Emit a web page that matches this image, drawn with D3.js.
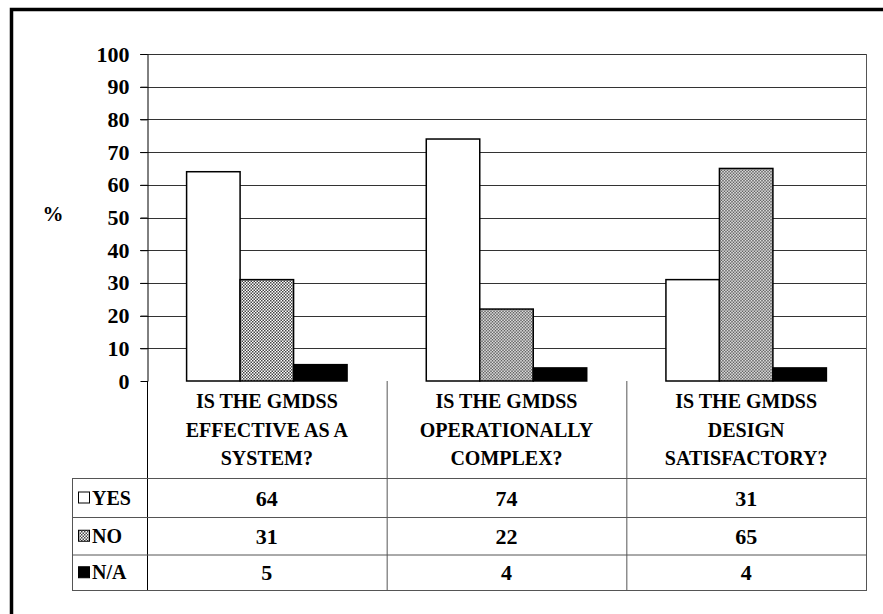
<!DOCTYPE html>
<html>
<head>
<meta charset="utf-8">
<script src="https://cdn.jsdelivr.net/npm/d3@7"></script>
<style>
  html, body { margin: 0; padding: 0; background: #fff; }
  svg { display: block; }
</style>
</head>
<body>
<script>
// Survey answers (%) for three questions about the GMDSS
const categories = [
  ["IS THE GMDSS", "EFFECTIVE AS A", "SYSTEM?"],
  ["IS THE GMDSS", "OPERATIONALLY", "COMPLEX?"],
  ["IS THE GMDSS", "DESIGN", "SATISFACTORY?"]
];
const seriesNames = ["YES", "NO", "N/A"];
const yesValues = [64, 74, 31];
const noValues = [31, 22, 65];
const naValues = [5, 4, 4];
const yTicks = [0, 10, 20, 30, 40, 50, 60, 70, 80, 90, 100];

const seriesValues = [yesValues, noValues, naValues];

const W = 883, H = 614;
const plotLeft = 147, plotRight = 866, plotTop = 54, plotBottom = 381;
const legendLeft = 72;
const rowLines = [478, 517, 554.5, 590];
const FONT = "Liberation Serif";

const svg = d3.select("body").append("svg").attr("width", W).attr("height", H)
  .attr("font-family", FONT).attr("font-weight", "bold");

// Dotted fill used for the "NO" series
const defs = svg.append("defs");
const pat = defs.append("pattern").attr("id", "dots")
  .attr("patternUnits", "userSpaceOnUse").attr("width", 3).attr("height", 3);
pat.append("rect").attr("width", 3).attr("height", 3).attr("fill", "#fff");
pat.append("rect").attr("x", 0).attr("y", 0).attr("width", 1.5).attr("height", 1.5).attr("fill", "#444");
pat.append("rect").attr("x", 1.5).attr("y", 1.5).attr("width", 1.5).attr("height", 1.5).attr("fill", "#444");

const fills = ["#fff", "url(#dots)", "#000"];

const x0 = d3.scaleBand().domain(d3.range(categories.length)).range([plotLeft, plotRight]);
const groupPad = 39.6;
const x1 = d3.scaleBand().domain(d3.range(seriesNames.length))
  .range([groupPad, x0.bandwidth() - groupPad]);
const y = d3.scaleLinear().domain([0, 100]).range([plotBottom, plotTop]);

// Outer frame (top and left edges)
svg.append("path")
  .attr("d", `M11.5,${H} V9.5 H${W}`)
  .attr("fill", "none").attr("stroke", "#000").attr("stroke-width", 3.5);

// Gridlines
svg.append("g").selectAll("line").data(yTicks.filter(d => d > 0)).join("line")
  .attr("x1", 140).attr("x2", plotRight)
  .attr("y1", d => Math.round(y(d)) + 0.5).attr("y2", d => Math.round(y(d)) + 0.5)
  .attr("stroke", "#333").attr("stroke-width", 1);

// Right edge of plot area
svg.append("line").attr("x1", plotRight + 0.5).attr("x2", plotRight + 0.5)
  .attr("y1", y(100)).attr("y2", rowLines[3])
  .attr("stroke", "#555").attr("stroke-width", 1);

// Y axis
const yAxis = d3.axisLeft(y).tickValues(yTicks).tickSize(7).tickSizeOuter(0).tickPadding(11);
const ga = svg.append("g").attr("transform", `translate(${plotLeft + 0.5},0)`).call(yAxis);
ga.attr("font-family", FONT).attr("font-size", 22);
ga.select(".domain").attr("stroke", "#000");
ga.selectAll(".tick line").attr("stroke", "#000");
ga.selectAll(".tick text").attr("fill", "#000");

svg.append("text").attr("x", 53).attr("y", 221).attr("text-anchor", "middle")
  .attr("font-size", 21).text("%");

// Bars
const groups = svg.append("g").selectAll("g").data(categories).join("g")
  .attr("transform", (d, i) => `translate(${x0(i)},0)`);
groups.selectAll("rect")
  .data((d, i) => seriesValues.map((vals, s) => ({ s, v: vals[i] })))
  .join("rect")
  .attr("x", d => x1(d.s))
  .attr("width", x1.bandwidth())
  .attr("y", d => y(d.v))
  .attr("height", d => y(0) - y(d.v))
  .attr("fill", d => fills[d.s])
  .attr("stroke", "#000").attr("stroke-width", 1.5);

// Data table below the plot
const tbl = svg.append("g");
const tc = "#555";
x0.domain().forEach(i => {
  tbl.append("line").attr("x1", x0(i) + 0.5).attr("x2", x0(i) + 0.5)
    .attr("y1", plotBottom).attr("y2", rowLines[3]).attr("stroke", i === 0 ? "#000" : tc);
});
tbl.append("line").attr("x1", legendLeft + 0.5).attr("x2", legendLeft + 0.5)
  .attr("y1", rowLines[0]).attr("y2", rowLines[3]).attr("stroke", tc);
rowLines.forEach(ry => {
  tbl.append("line").attr("x1", legendLeft).attr("x2", plotRight + 1)
    .attr("y1", ry + 0.5).attr("y2", ry + 0.5).attr("stroke", tc);
});

// category labels
categories.forEach((lines, i) => {
  const cx = x0(i) + x0.bandwidth() / 2;
  const t = tbl.append("text").attr("text-anchor", "middle").attr("font-size", 20).attr("x", cx);
  lines.forEach((ln, k) => {
    t.append("tspan").attr("x", cx).attr("y", 408 + k * 28.5).text(ln);
  });
});

// legend keys and values
seriesNames.forEach((name, s) => {
  const top = rowLines[s], bot = rowLines[s + 1];
  const cy = (top + bot) / 2;
  tbl.append("rect").attr("x", 78.5).attr("y", cy - 5.5).attr("width", 11).attr("height", 11)
    .attr("fill", fills[s]).attr("stroke", "#000").attr("stroke-width", 1);
  tbl.append("text").attr("x", 92).attr("y", cy + 7).attr("font-size", 20).text(name);
  seriesValues[s].forEach((v, i) => {
    tbl.append("text").attr("x", x0(i) + x0.bandwidth() / 2).attr("y", cy + 8)
      .attr("text-anchor", "middle").attr("font-size", 22).text(v);
  });
});
</script>
</body>
</html>
